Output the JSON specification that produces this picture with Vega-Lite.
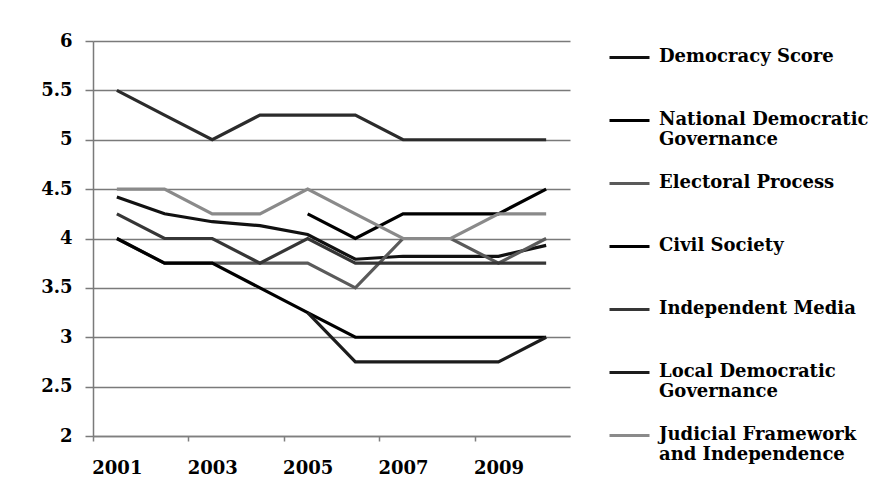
{
  "$schema": "https://vega.github.io/schema/vega-lite/v6.json",
  "width": 477,
  "height": 395,
  "padding": {"left": 8, "top": 32, "right": 5, "bottom": 5},
  "background": "white",
  "config": {"view": {"stroke": null}, "font": "DejaVu Serif"},
  "data": {"values": [
    {"series": "Democracy Score", "year": 2001, "score": 4.42},
    {"series": "Democracy Score", "year": 2002, "score": 4.25},
    {"series": "Democracy Score", "year": 2003, "score": 4.17},
    {"series": "Democracy Score", "year": 2004, "score": 4.13},
    {"series": "Democracy Score", "year": 2005, "score": 4.04},
    {"series": "Democracy Score", "year": 2006, "score": 3.79},
    {"series": "Democracy Score", "year": 2007, "score": 3.82},
    {"series": "Democracy Score", "year": 2008, "score": 3.82},
    {"series": "Democracy Score", "year": 2009, "score": 3.82},
    {"series": "Democracy Score", "year": 2010, "score": 3.93},
    {"series": "National Democratic Governance", "year": 2005, "score": 4.25},
    {"series": "National Democratic Governance", "year": 2006, "score": 4.0},
    {"series": "National Democratic Governance", "year": 2007, "score": 4.25},
    {"series": "National Democratic Governance", "year": 2008, "score": 4.25},
    {"series": "National Democratic Governance", "year": 2009, "score": 4.25},
    {"series": "National Democratic Governance", "year": 2010, "score": 4.5},
    {"series": "Electoral Process", "year": 2001, "score": 4.0},
    {"series": "Electoral Process", "year": 2002, "score": 3.75},
    {"series": "Electoral Process", "year": 2003, "score": 3.75},
    {"series": "Electoral Process", "year": 2004, "score": 3.75},
    {"series": "Electoral Process", "year": 2005, "score": 3.75},
    {"series": "Electoral Process", "year": 2006, "score": 3.5},
    {"series": "Electoral Process", "year": 2007, "score": 4.0},
    {"series": "Electoral Process", "year": 2008, "score": 4.0},
    {"series": "Electoral Process", "year": 2009, "score": 3.75},
    {"series": "Electoral Process", "year": 2010, "score": 4.0},
    {"series": "Civil Society", "year": 2001, "score": 4.0},
    {"series": "Civil Society", "year": 2002, "score": 3.75},
    {"series": "Civil Society", "year": 2003, "score": 3.75},
    {"series": "Civil Society", "year": 2004, "score": 3.5},
    {"series": "Civil Society", "year": 2005, "score": 3.25},
    {"series": "Civil Society", "year": 2006, "score": 3.0},
    {"series": "Civil Society", "year": 2007, "score": 3.0},
    {"series": "Civil Society", "year": 2008, "score": 3.0},
    {"series": "Civil Society", "year": 2009, "score": 3.0},
    {"series": "Civil Society", "year": 2010, "score": 3.0},
    {"series": "Independent Media", "year": 2001, "score": 4.25},
    {"series": "Independent Media", "year": 2002, "score": 4.0},
    {"series": "Independent Media", "year": 2003, "score": 4.0},
    {"series": "Independent Media", "year": 2004, "score": 3.75},
    {"series": "Independent Media", "year": 2005, "score": 4.0},
    {"series": "Independent Media", "year": 2006, "score": 3.75},
    {"series": "Independent Media", "year": 2007, "score": 3.75},
    {"series": "Independent Media", "year": 2008, "score": 3.75},
    {"series": "Independent Media", "year": 2009, "score": 3.75},
    {"series": "Independent Media", "year": 2010, "score": 3.75},
    {"series": "Local Democratic Governance", "year": 2005, "score": 3.25},
    {"series": "Local Democratic Governance", "year": 2006, "score": 2.75},
    {"series": "Local Democratic Governance", "year": 2007, "score": 2.75},
    {"series": "Local Democratic Governance", "year": 2008, "score": 2.75},
    {"series": "Local Democratic Governance", "year": 2009, "score": 2.75},
    {"series": "Local Democratic Governance", "year": 2010, "score": 3.0},
    {"series": "Judicial Framework and Independence", "year": 2001, "score": 4.5},
    {"series": "Judicial Framework and Independence", "year": 2002, "score": 4.5},
    {"series": "Judicial Framework and Independence", "year": 2003, "score": 4.25},
    {"series": "Judicial Framework and Independence", "year": 2004, "score": 4.25},
    {"series": "Judicial Framework and Independence", "year": 2005, "score": 4.5},
    {"series": "Judicial Framework and Independence", "year": 2006, "score": 4.25},
    {"series": "Judicial Framework and Independence", "year": 2007, "score": 4.0},
    {"series": "Judicial Framework and Independence", "year": 2008, "score": 4.0},
    {"series": "Judicial Framework and Independence", "year": 2009, "score": 4.25},
    {"series": "Judicial Framework and Independence", "year": 2010, "score": 4.25},
    {"series": "Corruption", "year": 2001, "score": 5.5},
    {"series": "Corruption", "year": 2002, "score": 5.25},
    {"series": "Corruption", "year": 2003, "score": 5.0},
    {"series": "Corruption", "year": 2004, "score": 5.25},
    {"series": "Corruption", "year": 2005, "score": 5.25},
    {"series": "Corruption", "year": 2006, "score": 5.25},
    {"series": "Corruption", "year": 2007, "score": 5.0},
    {"series": "Corruption", "year": 2008, "score": 5.0},
    {"series": "Corruption", "year": 2009, "score": 5.0},
    {"series": "Corruption", "year": 2010, "score": 5.0}
  ]},
  "mark": {"type": "line", "strokeWidth": 3.2},
  "encoding": {
    "x": {
      "field": "year",
      "type": "ordinal",
      "scale": {"type": "band", "paddingInner": 0, "paddingOuter": 0},
      "axis": {
        "title": null,
        "values": [2001, 2003, 2005, 2007, 2009],
        "tickOffset": -23.85,
        "labelOffset": 23.85,
        "grid": false,
        "labelAngle": 0,
        "domainColor": "#7f7f7f",
        "domainWidth": 1.5,
        "tickColor": "#7f7f7f",
        "tickWidth": 1.5,
        "tickSize": 5,
        "labelPadding": 18,
        "labelFont": "DejaVu Serif",
        "labelFontWeight": "bold",
        "labelFontSize": 18,
        "labelColor": "#000000"
      }
    },
    "y": {
      "field": "score",
      "type": "quantitative",
      "scale": {"domain": [2, 6], "nice": false},
      "axis": {
        "title": null,
        "values": [2, 2.5, 3, 3.5, 4, 4.5, 5, 5.5, 6],
        "format": "~g",
        "grid": true,
        "gridColor": "#7a7a7a",
        "gridWidth": 1.5,
        "domainColor": "#7a7a7a",
        "domainWidth": 1.5,
        "tickColor": "#7a7a7a",
        "tickWidth": 1.5,
        "tickSize": 8,
        "labelPadding": 13,
        "labelFont": "DejaVu Serif",
        "labelFontWeight": "bold",
        "labelFontSize": 18,
        "labelColor": "#000000",
        "minExtent": 85,
        "maxExtent": 85
      }
    },
    "color": {
      "field": "series",
      "type": "nominal",
      "scale": {
        "domain": ["Democracy Score", "National Democratic Governance", "Electoral Process", "Civil Society", "Independent Media", "Local Democratic Governance", "Judicial Framework and Independence", "Corruption"],
        "range": ["#111111", "#000000", "#5a5a5a", "#000000", "#363636", "#1c1c1c", "#8a8a8a", "#2b2b2b"]
      },
      "legend": {
        "title": null,
        "orient": "none",
        "legendX": 515,
        "legendY": -5,
        "values": ["Democracy Score", "National Democratic Governance", "Electoral Process", "Civil Society", "Independent Media", "Local Democratic Governance", "Judicial Framework and Independence"],
        "symbolType": "stroke",
        "symbolSize": 1600,
        "symbolStrokeWidth": 3,
        "labelFont": "DejaVu Serif",
        "labelFontWeight": "bold",
        "labelFontSize": 18,
        "labelColor": "#000000",
        "labelLimit": 300,
        "labelOffset": 8,
        "rowPadding": 13,
        "labelBaseline": "top",
        "labelExpr": "datum.label == 'National Democratic Governance' ? ['National Democratic', 'Governance'] : datum.label == 'Local Democratic Governance' ? ['Local Democratic', 'Governance'] : datum.label == 'Judicial Framework and Independence' ? ['Judicial Framework', 'and Independence'] : [datum.label, ' ']",
        "encode": {"labels": {"update": {"dy": {"value": -10}}}}
      }
    }
  }
}
